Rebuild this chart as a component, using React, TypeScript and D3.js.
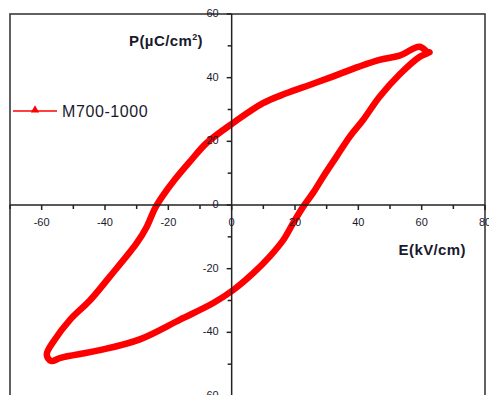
import React from 'react';
import * as d3 from 'd3';

// hysteresis loop (E in kV/cm, P in uC/cm2)
const upperE = [62, 59.3, 53, 46.7, 40, 31, 24.6, 17, 9.9, 0.5, -8, -13.2, -18.5, -21.6, -24.2, -26.8, -30, -38.5, -44.8, -51, -56, -58.4];
const upperP = [48, 49.7, 46.9, 45.6, 43.4, 40, 37.7, 35, 32, 25.8, 19.4, 13.6, 7.3, 3.1, -1, -6.8, -12, -22.5, -30, -36, -42.5, -47];
const lowerE = [-57, -54, -41.6, -29, -16.3, -5.8, 0.5, 6.8, 12, 16.3, 19.4, 22.6, 25.7, 28.9, 33.1, 37.3, 41.5, 46.7, 53, 59.3, 62.5];
const lowerP = [-49, -48, -45.6, -42.2, -36, -30.8, -26.7, -21.4, -16.2, -11, -5.7, -0.5, 3.8, 8.9, 15.2, 21.5, 26.7, 34, 41, 46.5, 48];

const xTicks = [-60, -40, -20, 0, 20, 40, 60, 80];
const yTicks = [60, 40, 20, 0, -20, -40, -60];
const seriesName = 'M700-1000';

const W = 489;
const H = 395;

export default function App() {
  const x = d3.scaleLinear().domain([-70, 80]).range([10, 485]);
  const y = d3.scaleLinear().domain([60, -60]).range([14, 396]);

  const pts: [number, number][] = [];
  upperE.forEach((e, i) => pts.push([e, upperP[i]]));
  lowerE.forEach((e, i) => pts.push([e, lowerP[i]]));

  const line = d3.line<[number, number]>()
    .x(d => x(d[0]))
    .y(d => y(d[1]))
    .curve(d3.curveCatmullRomClosed.alpha(0.5));

  const xMinor = d3.range(-70, 81, 10).filter(v => v % 20 !== 0);
  const yMinor = d3.range(-50, 60, 10).filter(v => v % 20 !== 0);
  const x0 = x(0);
  const y0 = y(0);
  const axisCol = '#222';
  const lblCol = '#1a1a2e';
  const font = 'Liberation Sans, Arial, sans-serif';

  return (
    <svg width={W} height={H} style={{ position: 'absolute', left: 0, top: 0, background: '#fff' }}>
      {/* frame */}
      <rect x={x(-70)} y={y(60)} width={x(80) - x(-70)} height={y(-60) - y(60) + 10}
        fill="none" stroke="#3a3a3a" strokeWidth={1.6} />

      {/* curve */}
      <path d={line(pts) || ''} fill="none" stroke="#ff0000" strokeWidth={6.5} strokeLinejoin="round" />

      {/* x axis */}
      <line x1={x(-70)} x2={x(80)} y1={y0} y2={y0} stroke={axisCol} strokeWidth={1.5} />
      {xTicks.map(t => (
        <g key={'xt' + t}>
          <line x1={x(t)} x2={x(t)} y1={y0} y2={y0 + 5} stroke={axisCol} strokeWidth={1.5} />
          <text x={x(t)} y={y0 + 21} textAnchor="middle" fontSize={11} fontFamily={font} fill={lblCol}>{t}</text>
        </g>
      ))}
      {xMinor.map(t => (
        <line key={'xm' + t} x1={x(t)} x2={x(t)} y1={y0} y2={y0 + 4} stroke={axisCol} strokeWidth={1.5} />
      ))}

      {/* y axis */}
      <line x1={x0} x2={x0} y1={y(60)} y2={H} stroke={axisCol} strokeWidth={1.5} />
      {yTicks.map(t => (
        <g key={'yt' + t}>
          <line x1={x0} x2={x0 - 5} y1={y(t)} y2={y(t)} stroke={axisCol} strokeWidth={1.5} />
          <text x={x0 - 13} y={y(t) + 3} textAnchor="end" fontSize={11} fontFamily={font} fill={lblCol}>{t}</text>
        </g>
      ))}
      {yMinor.map(t => (
        <line key={'ym' + t} x1={x0} x2={x0 - 4} y1={y(t)} y2={y(t)} stroke={axisCol} strokeWidth={1.5} />
      ))}

      {/* axis titles */}
      <text x={203} y={46} textAnchor="end" fontSize={15} fontWeight="bold" fontFamily={font} fill={lblCol} letterSpacing={0.4}>
        P(µC/cm<tspan dy={-6} fontSize={9}>2</tspan><tspan dy={6}>)</tspan>
      </text>
      <text x={466} y={255} textAnchor="end" fontSize={15} fontWeight="bold" fontFamily={font} fill={lblCol} letterSpacing={0.4}>E(kV/cm)</text>

      {/* legend */}
      <line x1={13} x2={57} y1={111} y2={111} stroke="#ff0000" strokeWidth={1.5} />
      <path d={d3.symbol(d3.symbolTriangle, 30)() || ''} transform="translate(35,110)" fill="#ff0000" />
      <text x={62} y={117} fontSize={16} fontFamily={font} fill={lblCol} letterSpacing={0.6}>{seriesName}</text>
    </svg>
  );
}
